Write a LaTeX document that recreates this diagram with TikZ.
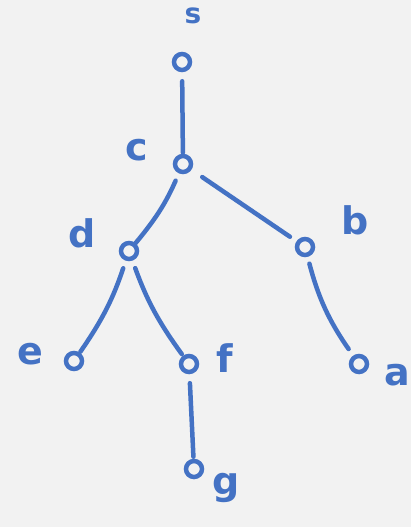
\documentclass[tikz,border=0pt]{standalone}
\usepackage{fontspec}
\setsansfont{DejaVu Sans}
\usepackage{tikz}
\usetikzlibrary{calc}
\usepackage{xcolor}
\definecolor{inkblue}{RGB}{68,114,196}
\definecolor{paper}{RGB}{242,242,242}
\tikzset{
    vertex/.style={circle, draw=inkblue, line width=4.5pt, minimum size=16pt, inner sep=0pt},
    edge/.style={draw=inkblue, line width=4.5pt, line cap=round},
    lbl/.style={text=inkblue, font=\sffamily\bfseries\fontsize{38}{38}\selectfont, inner sep=0pt}
}

\begin{document}
\begin{tikzpicture}[x=1pt, y=-1pt]
    \fill[paper] (0,0) rectangle (411,527);
    \useasboundingbox (0,0) rectangle (411,527);
    \node[vertex] (s) at (182,62) {};
    \node[vertex] (c) at (183,164) {};
    \node[vertex] (d) at (129,251) {};
    \node[vertex] (b) at (305,247) {};
    \node[vertex] (e) at (74,361) {};
    \node[vertex] (f) at (189,364) {};
    \node[vertex] (a) at (359,364) {};
    \node[vertex] (g) at (194,469) {};
    \node[lbl, font=\sffamily\bfseries\fontsize{28}{28}\selectfont] (ls) at (193,16) {s};
    \node[lbl] (lc) at (137,150) {c};
    \node[lbl] (ld) at (82,233) {d};
    \node[lbl] (lb) at (355,220) {b};
    \node[lbl] (le) at (30,354) {e};
    \node[lbl] (lf) at (225,358) {f};
    \node[lbl] (la) at (397,375) {a};
    \node[lbl] (lg) at (226,488) {g};
    \draw[edge, shorten <=9pt, shorten >=1pt] (s) -- (c);
    \draw[edge, shorten <=8pt] (c) to[bend left=8] (d);
    \draw[edge, shorten <=13pt, shorten >=8pt] (c) -- (b);
    \draw[edge, shorten <=8pt, shorten >=1pt] (d) to[bend left=8] (e);
    \draw[edge, shorten <=8pt, shorten >=2pt] (d) to[bend right=8] (f);
    \draw[edge, shorten <=7pt, shorten >=8pt] (b) to[bend right=10] (a);
    \draw[edge, shorten <=9pt, shorten >=2pt] (f) -- (g);
\end{tikzpicture}
\end{document}
